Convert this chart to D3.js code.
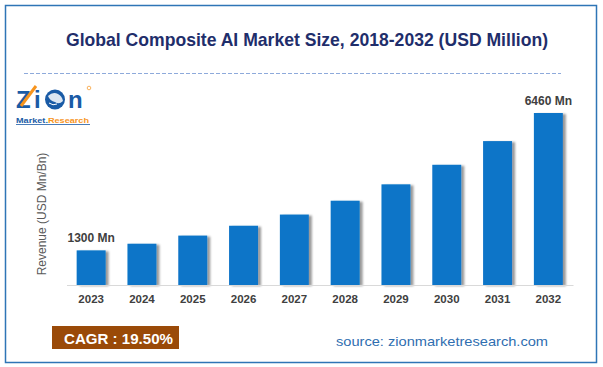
<!DOCTYPE html>
<html><head><meta charset="utf-8">
<script src="https://cdn.jsdelivr.net/npm/d3@7"></script>
<style>html,body{margin:0;padding:0;background:#fff;}svg{display:block;}</style>
</head><body>
<script>
const years = ["2023","2024","2025","2026","2027","2028","2029","2030","2031","2032"];
const revenue = [1300, 1550, 1855, 2225, 2645, 3165, 3780, 4515, 5405, 6460];
const valueLabels = {"2023": "1300 Mn", "2032": "6460 Mn"};
const titleText = "Global Composite AI Market Size, 2018-2032 (USD Million)";
const yTitle = "Revenue (USD Mn/Bn)";
const cagrText = "CAGR : 19.50%";
const sourceText = "source: zionmarketresearch.com";

const W = 603, H = 367;
const svg = d3.select("body").append("svg").attr("width", W).attr("height", H);
const font = "'Liberation Sans', Arial, sans-serif";

const defs = svg.append("defs");
const f = defs.append("filter").attr("id","shadow").attr("x","-20%").attr("y","-20%").attr("width","160%").attr("height","140%");
f.append("feDropShadow").attr("dx",3).attr("dy",1).attr("stdDeviation",1.3).attr("flood-color","#000").attr("flood-opacity",0.4);

// frame
svg.append("rect").attr("x",5.5).attr("y",5.5).attr("width",591).attr("height",357)
  .attr("fill","#fff").attr("stroke","#2e75b6").attr("stroke-width",1.5);

// title
svg.append("text").attr("x",66).attr("y",46).attr("font-family",font).attr("font-weight","bold")
  .attr("font-size",18.5).attr("fill","#1f2e6b").attr("textLength",482).attr("lengthAdjust","spacingAndGlyphs")
  .text(titleText);

// dashed line
svg.append("line").attr("x1",24).attr("x2",561).attr("y1",73.5).attr("y2",73.5)
  .attr("stroke","#8eaadb").attr("stroke-width",1).attr("stroke-dasharray","4,2");

// logo
const logo = svg.append("g").attr("font-family",font).attr("font-weight","bold");
logo.append("text").attr("x",16).attr("y",108).attr("font-size",24).attr("fill","#1a5ba6").text("Z");
logo.append("line").attr("x1",21).attr("y1",106).attr("x2",36).attr("y2",86).attr("stroke","#f7941d").attr("stroke-width",3);
logo.append("text").attr("x",34).attr("y",108).attr("font-size",24).attr("fill","#1a5ba6").text("i");
logo.append("circle").attr("cx",55).attr("cy",99.5).attr("r",10).attr("fill","#1a5ba6");
logo.append("path").attr("d","M48,96 q5,-5 10,-2 q4,2 5,7 q-4,4 -8,1 q-5,-1 -7,-6z").attr("fill","#fff").attr("opacity",0.85);
logo.append("path").attr("d","M49,103 q4,3 8,1").attr("stroke","#fff").attr("fill","none").attr("stroke-width",1);
logo.append("text").attr("x",68).attr("y",108).attr("font-size",24).attr("fill","#1a5ba6").text("n");
logo.append("circle").attr("cx",89).attr("cy",88).attr("r",1.8).attr("fill","none").attr("stroke","#f7941d").attr("stroke-width",0.7);
const lt = logo.append("text").attr("x",16).attr("y",123).attr("font-size",8)
  .attr("textLength",73).attr("lengthAdjust","spacingAndGlyphs");
lt.append("tspan").attr("fill","#1a5ba6").text("Market.");
lt.append("tspan").attr("fill","#f7941d").text("Research");
logo.append("line").attr("x1",16).attr("x2",90).attr("y1",124.5).attr("y2",124.5).attr("stroke","#1a5ba6").attr("stroke-width",0.8);

// scales
const x = d3.scaleBand().domain(years).range([66.5, 573]).paddingInner(0.43).paddingOuter(0.2);
const y = d3.scaleLinear().domain([0, 6460]).range([285, 113]);

// bars
svg.append("g").selectAll("rect").data(years).join("rect")
  .attr("x", d => x(d)).attr("width", x.bandwidth())
  .attr("y", (d,i) => y(revenue[i])).attr("height", (d,i) => y(0) - y(revenue[i]))
  .attr("fill","#0a74c8").attr("filter","url(#shadow)");

// x axis
const xAxis = svg.append("g").attr("transform","translate(0,285)")
  .call(d3.axisBottom(x).tickSize(0).tickPadding(10));
xAxis.select(".domain").attr("stroke","#d9d9d9").attr("stroke-width",1);
xAxis.selectAll("text").attr("font-family",font).attr("font-weight","bold").attr("font-size",11.5).attr("fill","#404040");

// value labels
svg.append("g").selectAll("text").data(years.filter(d => valueLabels[d])).join("text")
  .attr("x", d => x(d) + x.bandwidth()/2)
  .attr("y", d => y(revenue[years.indexOf(d)]) - 8)
  .attr("text-anchor","middle").attr("font-family",font).attr("font-weight","bold")
  .attr("font-size",12).attr("fill","#404040").text(d => valueLabels[d]);

// y title
svg.append("text").attr("transform","translate(46,214) rotate(-90)").attr("text-anchor","middle")
  .attr("font-family",font).attr("font-size",12).attr("fill","#595959").text(yTitle);

// CAGR box
svg.append("rect").attr("x",52).attr("y",326).attr("width",127).attr("height",23).attr("fill","#9a4a08");
svg.append("text").attr("x",64).attr("y",344).attr("font-family",font).attr("font-weight","bold")
  .attr("font-size",14.5).attr("fill","#fff").attr("textLength",109).attr("lengthAdjust","spacingAndGlyphs").text(cagrText);

// source
svg.append("text").attr("x",336).attr("y",346).attr("font-family",font).attr("font-size",13.5)
  .attr("fill","#2f6eb0").attr("textLength",212).attr("lengthAdjust","spacingAndGlyphs").text(sourceText);
</script>
</body></html>
